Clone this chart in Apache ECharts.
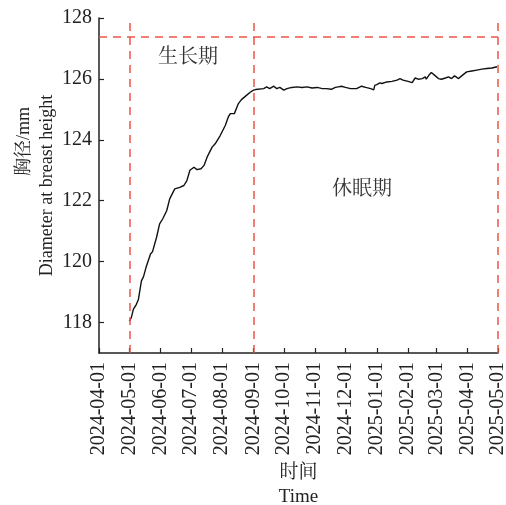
<!DOCTYPE html>
<html>
<head>
<meta charset="utf-8">
<script src="https://cdn.jsdelivr.net/npm/echarts@6/dist/echarts.min.js"></script>
<style>
  html, body { margin: 0; padding: 0; background: #fff; }
  #chart { width: 506px; height: 505px; }
</style>
</head>
<body>
<div id="chart"></div>
<script>
// 日期
var dates = [
  '2024-05-01','2024-05-03','2024-05-05','2024-05-08','2024-05-10','2024-05-13','2024-05-15','2024-05-18',
  '2024-05-22','2024-05-24','2024-05-28','2024-05-31','2024-06-03','2024-06-07','2024-06-10','2024-06-15',
  '2024-06-20','2024-06-24','2024-06-27','2024-06-30','2024-07-04','2024-07-07','2024-07-11','2024-07-14',
  '2024-07-17','2024-07-22','2024-07-25','2024-07-30','2024-08-04','2024-08-07','2024-08-09','2024-08-13',
  '2024-08-17','2024-08-20','2024-08-25','2024-08-29','2024-09-01','2024-09-03','2024-09-11','2024-09-14',
  '2024-09-17','2024-09-21','2024-09-24','2024-09-27','2024-10-01','2024-10-04','2024-10-09','2024-10-14',
  '2024-10-19','2024-10-24','2024-10-29','2024-11-03','2024-11-08','2024-11-12','2024-11-17','2024-11-21',
  '2024-11-24','2024-11-27','2024-12-01','2024-12-06','2024-12-12','2024-12-17','2024-12-21','2024-12-26',
  '2024-12-29','2024-12-30','2025-01-01','2025-01-04','2025-01-06','2025-01-11','2025-01-16','2025-01-21',
  '2025-01-24','2025-01-27','2025-02-01','2025-02-05','2025-02-08','2025-02-11','2025-02-15','2025-02-18',
  '2025-02-19','2025-02-22','2025-02-24','2025-02-28','2025-03-03','2025-03-06','2025-03-10','2025-03-13',
  '2025-03-16','2025-03-19','2025-03-23','2025-03-26','2025-03-31','2025-04-05','2025-04-10','2025-04-15',
  '2025-04-20','2025-04-25','2025-04-30'
];
// 胸径 mm
var diameters = [
  118.05,118.16,118.43,118.60,118.76,119.37,119.50,119.86,
  120.25,120.33,120.80,121.24,121.40,121.67,122.06,122.39,
  122.44,122.50,122.66,123.00,123.10,123.02,123.05,123.16,
  123.43,123.76,123.87,124.14,124.47,124.75,124.86,124.86,
  125.19,125.32,125.46,125.57,125.63,125.65,125.68,125.74,
  125.68,125.76,125.68,125.72,125.63,125.68,125.72,125.74,
  125.72,125.74,125.70,125.72,125.68,125.68,125.66,125.72,
  125.74,125.76,125.72,125.68,125.68,125.76,125.72,125.68,
  125.64,125.79,125.81,125.87,125.85,125.90,125.92,125.96,
  126.01,125.96,125.92,125.88,126.03,125.99,126.01,126.07,
  125.99,126.14,126.21,126.10,126.01,125.99,126.03,126.07,
  126.01,126.10,126.01,126.10,126.23,126.26,126.29,126.32,
  126.34,126.36,126.40
];
var monthTicks = [
  '2024-04-01','2024-05-01','2024-06-01','2024-07-01','2024-08-01','2024-09-01','2024-10-01',
  '2024-11-01','2024-12-01','2025-01-01','2025-02-01','2025-03-01','2025-04-01','2025-05-01'
];
var yTicks = [118, 120, 122, 124, 126, 128];
var phaseLines = ['2024-05-01', '2024-09-01', '2025-05-01'];
var refLevel = 127.4;

var serif = "'Times New Roman','Liberation Serif','Noto Serif CJK SC','Noto Sans CJK SC',serif";
var red = '#ef5448';

function ts(d) { return echarts.time.parse(d).getTime(); }

var chart = echarts.init(document.getElementById('chart'));

var tickTimes = monthTicks.map(ts);
var seriesData = dates.map(function (d, i) { return [ts(d), diameters[i]]; });

var option = {
  animation: false,
  grid: { left: 99, right: 8, top: 18, bottom: 152, containLabel: false, outerBoundsMode: 'none' },
  xAxis: {
    type: 'value',
    min: tickTimes[0],
    max: tickTimes[tickTimes.length - 1],
    name: '时间\nTime',
    nameLocation: 'middle',
    nameGap: 108,
    nameMoveOverlap: false,
    nameTextStyle: { fontFamily: serif, fontSize: 19, color: '#222', lineHeight: 24, verticalAlign: 'top' },
    axisLine: { lineStyle: { color: '#222', width: 1.5 } },
    axisTick: { inside: true, length: 5, customValues: tickTimes, lineStyle: { color: '#222', width: 1.2 } },
    axisLabel: {
      customValues: tickTimes,
      rotate: 90,
      margin: 9,
      fontFamily: serif,
      fontSize: 20,
      color: '#222',
      formatter: function (v) { return echarts.time.format(v, '{yyyy}-{MM}-{dd}', false); }
    },
    splitLine: { show: false }
  },
  yAxis: {
    type: 'value',
    min: 117,
    max: 128,
    name: '{a|胸径/mm}\n{b|Diameter at breast height}',
    nameLocation: 'middle',
    nameGap: 40,
    nameMoveOverlap: false,
    nameTextStyle: {
      fontFamily: serif, fontSize: 18, color: '#222', lineHeight: 23,
      rich: {
        a: { fontFamily: serif, fontSize: 18, color: '#222', lineHeight: 23, padding: [0, 0, 0, 88] },
        b: { fontFamily: serif, fontSize: 18, color: '#222', lineHeight: 23 }
      }
    },
    axisLine: { show: true, lineStyle: { color: '#222', width: 1.5 } },
    axisTick: { show: true, inside: true, length: 5, customValues: yTicks, lineStyle: { color: '#222', width: 1.2 } },
    axisLabel: { customValues: yTicks, margin: 7, fontFamily: serif, fontSize: 20, color: '#222' },
    splitLine: { show: false }
  },
  series: [{
    type: 'line',
    data: seriesData,
    showSymbol: false,
    lineStyle: { color: '#111', width: 1.4 },
    markLine: {
      silent: true,
      symbol: 'none',
      label: { show: false },
      lineStyle: { color: red, type: [8, 6], width: 1.5 },
      data: phaseLines.map(function (d) { return { xAxis: ts(d) }; }).concat([{ yAxis: refLevel }])
    }
  }],
  graphic: [
    { type: 'text', x: 188, y: 58, style: { text: '生长期', fontFamily: serif, fontSize: 20, fill: '#333', align: 'center', verticalAlign: 'middle' } },
    { type: 'text', x: 362, y: 190, style: { text: '休眠期', fontFamily: serif, fontSize: 20, fill: '#333', align: 'center', verticalAlign: 'middle' } }
  ]
};

chart.setOption(option);
</script>
</body>
</html>
